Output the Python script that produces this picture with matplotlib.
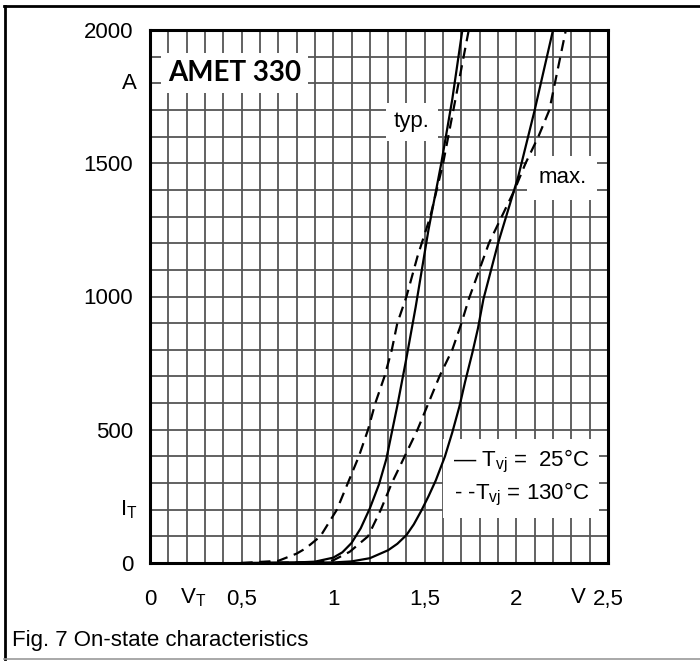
import matplotlib
matplotlib.use("Agg")
import matplotlib.pyplot as plt
import numpy as np
from matplotlib.lines import Line2D

plt.rcParams['font.family'] = ['Liberation Sans', 'DejaVu Sans']
plt.rcParams['mathtext.fontset'] = 'custom'
plt.rcParams['mathtext.rm'] = 'Liberation Sans'
plt.rcParams['mathtext.it'] = 'Liberation Sans:italic'
FS = 16

# ---- data ----
typ25_v = [0.5, 0.8, 0.9, 1.0, 1.05, 1.1, 1.15, 1.2, 1.25, 1.29, 1.32, 1.35, 1.40, 1.45, 1.52, 1.59, 1.65, 1.705]
typ25_i = [0, 2, 5, 20, 40, 75, 130, 205, 295, 390, 490, 590, 770, 960, 1250, 1500, 1740, 2000]

typ130_v = [0.5, 0.7, 0.8, 0.85, 0.93, 1.02, 1.08, 1.14, 1.19, 1.23, 1.28, 1.32, 1.35, 1.40, 1.46, 1.53, 1.60, 1.67, 1.74]
typ130_i = [0, 8, 35, 55, 100, 200, 300, 400, 500, 600, 700, 800, 900, 1000, 1150, 1300, 1500, 1750, 2000]

max25_v = [0.6, 1.0, 1.1, 1.2, 1.3, 1.35, 1.40, 1.44, 1.48, 1.52, 1.56, 1.61, 1.65, 1.69, 1.72, 1.76, 1.79, 1.82, 1.90, 2.01, 2.10, 2.20]
max25_i = [0, 2, 6, 18, 48, 72, 105, 145, 195, 250, 310, 400, 490, 590, 680, 790, 880, 990, 1200, 1450, 1700, 2000]

max130_v = [0.6, 0.9, 1.0, 1.09, 1.19, 1.26, 1.32, 1.39, 1.46, 1.52, 1.58, 1.65, 1.70, 1.74, 1.85, 1.92, 1.99, 2.05, 2.12, 2.18, 2.27]
max130_i = [0, 3, 10, 42, 100, 200, 300, 400, 500, 600, 700, 800, 900, 990, 1200, 1300, 1400, 1500, 1600, 1700, 2000]

x_ticks = [0, 0.5, 1, 1.5, 2, 2.5]
x_ticklabels = ['0', '0,5', '1', '1,5', '2', '2,5']
y_ticks = [0, 500, 1000, 1500, 2000]
y_ticklabels = ['0', '500', '1000', '1500', '2000']

W, H = 700, 661
fig = plt.figure(figsize=(W / 100, H / 100), dpi=100)
ax = fig.add_axes([150 / W, 1 - 563 / H, 458 / W, 533 / H])

ax.set_xlim(0, 2.5)
ax.set_ylim(0, 2000)
ax.set_xticks(np.arange(0, 2.501, 0.1), minor=True)
ax.set_yticks(np.arange(0, 2001, 100), minor=True)
ax.grid(which='minor', color='#555555', lw=1.3)
ax.grid(which='major', color='#555555', lw=1.3)
ax.set_axisbelow(True)
for s in ax.spines.values():
    s.set_linewidth(2.2)
    s.set_color('black')
    s.set_zorder(6)

ax.set_xticks(x_ticks)
ax.set_xticklabels(x_ticklabels)
ax.set_yticks(y_ticks)
ax.set_yticklabels(y_ticklabels)
ax.tick_params(which='both', length=0)
ax.tick_params(axis='y', pad=12, labelsize=FS)
ax.tick_params(axis='x', pad=19, labelsize=FS)

lw = 1.6
dash = (0, (5, 3))
ax.plot(typ25_v, typ25_i, color='black', lw=lw, zorder=4)
ax.plot(typ130_v, typ130_i, color='black', lw=lw, ls=dash, zorder=4)
ax.plot(max25_v, max25_i, color='black', lw=lw, zorder=4)
ax.plot(max130_v, max130_i, color='black', lw=lw, ls=dash, zorder=4)

# white label boxes
ax.text(0.46, 1840, 'AMET 330', family=['Lato', 'Open Sans', 'DejaVu Sans'], fontweight='bold',
        fontsize=20, ha='center', va='center', zorder=5,
        bbox=dict(facecolor='white', edgecolor='none', pad=5))
ax.text(1.43, 1655, 'typ.', fontsize=FS, ha='center', va='center', zorder=3,
        bbox=dict(facecolor='white', edgecolor='none', pad=6))
ax.text(2.25, 1445, 'max.', fontsize=FS, ha='center', va='center', zorder=3,
        bbox=dict(facecolor='white', edgecolor='none', pad=8))
ax.text(2.40, 318, '— T$_{\\rm vj}$ =  25°C\n- -T$_{\\rm vj}$ = 130°C', fontsize=FS,
        ha='right', va='center', zorder=3, linespacing=1.3,
        bbox=dict(facecolor='white', edgecolor='none', pad=7))

# axis unit labels at tick-label row
ax.text(-0.07, 1800, 'A', fontsize=FS, ha='right', va='center', clip_on=False)
ax.text(-0.07, 200, 'I$_{\\rm T}$', fontsize=FS, ha='right', va='center', clip_on=False)
ax.text(0.235, -130, 'V$_{\\rm T}$', fontsize=FS, ha='center', va='center', clip_on=False)
ax.text(2.34, -130, 'V', fontsize=FS, ha='center', va='center', clip_on=False)

# figure frame and caption
fig.add_artist(Line2D([4.5 / W, 4.5 / W], [1 - 6 / H, 1 - 659 / H], transform=fig.transFigure, color='black', lw=2))
fig.add_artist(Line2D([4 / W, 1.0], [1 - 6 / H, 1 - 6 / H], transform=fig.transFigure, color='black', lw=2))
fig.add_artist(Line2D([4 / W, 1.0], [1 - 659 / H, 1 - 659 / H], transform=fig.transFigure, color='#999999', lw=1.2))
fig.text(12 / W, 1 - 646 / H, 'Fig. 7 On-state characteristics', fontsize=FS, ha='left', va='baseline')

fig.savefig('out.png', dpi=100)
